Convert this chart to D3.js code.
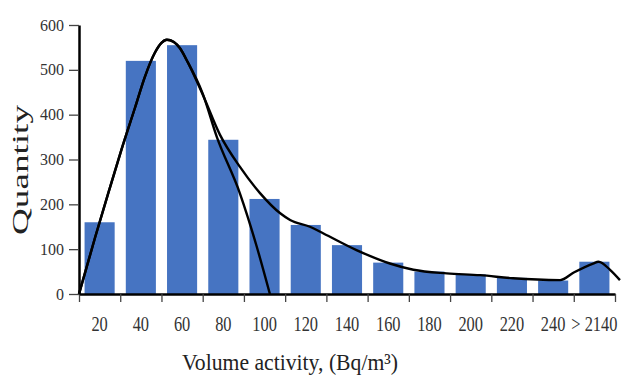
<!DOCTYPE html>
<html>
<head>
<meta charset="utf-8">
<script src="https://cdn.jsdelivr.net/npm/d3@7"></script>
<style>
  body { margin: 0; background: #fff; }
  text { font-family: "Liberation Serif", "Times New Roman", serif; }
</style>
</head>
<body>
<div id="chart"></div>
<script>
// bins on the x axis
var categories = ["20", "40", "60", "80", "100", "120", "140", "160", "180", "200", "220", "240", "> 2140"];
// number of measurements in each bin
var quantities = [160, 520, 555, 344, 212, 154, 109, 70, 50, 44, 36, 30, 72];
var yTicks = [0, 100, 200, 300, 400, 500, 600];

// fitted curves, x in bin units (0 = left edge of first bin)
var fitCurveX = [0, 0.39, 0.71, 1.03, 1.36, 1.6, 1.84, 2.0, 2.13, 2.3, 2.45, 2.61, 3.0, 3.34, 3.9, 4.31, 4.63];
var fitCurveY = [0, 126, 225, 322, 416, 485, 538, 560, 567, 562, 548, 522, 447, 351, 225, 106, 0];
var smoothX = [0, 0.39, 0.71, 1.03, 1.36, 1.6, 1.84, 2.0, 2.13, 2.3, 2.45, 2.61, 3.0, 3.42, 3.9, 4.39, 4.88, 5.12, 5.6, 5.93, 6.73, 7.54, 8.11, 8.92, 9.73, 10.53, 11.67, 12.0, 12.47, 12.6, 12.88, 13.12];
var smoothY = [0, 126, 225, 322, 416, 485, 538, 560, 567, 562, 548, 522, 445, 355, 284, 225, 180, 165, 150, 135, 98, 68, 54, 46, 42, 35, 31, 48, 68, 72, 54, 31];

// set the dimensions and margins of the graph
var margin = {top: 25, right: 7, bottom: 89, left: 79},
    width = 622 - margin.left - margin.right,
    height = 383 - margin.top - margin.bottom;

var svg = d3.select("#chart")
    .append("svg")
    .attr("width", width + margin.left + margin.right)
    .attr("height", height + margin.top + margin.bottom)
    .append("g")
    .attr("transform", "translate(" + margin.left + "," + margin.top + ")");

// X scales: band for bars, linear (bin units) for curves and tick marks
var x = d3.scaleBand()
    .range([0, width])
    .domain(categories)
    .paddingInner(0.27)
    .paddingOuter(0.135);

var xu = d3.scaleLinear()
    .domain([0, categories.length])
    .range([0, width]);

var y = d3.scaleLinear()
    .domain([0, 600])
    .range([height, 0]);

// bars
svg.selectAll("rect")
    .data(quantities)
    .enter()
    .append("rect")
    .attr("x", function(d, i) { return x(categories[i]); })
    .attr("y", function(d) { return y(d); })
    .attr("width", x.bandwidth())
    .attr("height", function(d) { return height - y(d); })
    .attr("fill", "#4674c2");

// curves
var line = d3.line()
    .x(function(d) { return xu(d[0]); })
    .y(function(d) { return y(d[1]); })
    .curve(d3.curveMonotoneX);

svg.append("path")
    .datum(d3.zip(fitCurveX, fitCurveY))
    .attr("d", line)
    .attr("fill", "none")
    .attr("stroke", "#000")
    .attr("stroke-width", 2.4);

svg.append("path")
    .datum(d3.zip(smoothX, smoothY))
    .attr("d", line)
    .attr("fill", "none")
    .attr("stroke", "#000")
    .attr("stroke-width", 2.4);

// X axis: tick marks on bin edges
var xTickAxis = svg.append("g")
    .attr("transform", "translate(0," + height + ")")
    .call(d3.axisBottom(xu).tickValues(d3.range(0, categories.length + 1)).tickFormat("").tickSize(8).tickSizeOuter(0));
xTickAxis.select(".domain").attr("stroke", "#000").attr("stroke-width", 2.5);
xTickAxis.selectAll(".tick line").attr("stroke", "#444").attr("stroke-width", 1.3);

// X axis labels centred in the bins
var xLabelAxis = svg.append("g")
    .attr("transform", "translate(0," + height + ")")
    .call(d3.axisBottom(x).tickSize(0).tickPadding(23));
xLabelAxis.select(".domain").remove();
xLabelAxis.selectAll("text")
    .attr("font-size", 20)
    .attr("fill", "#333")
    .attr("transform", "scale(0.82,1)");

// Y axis
var yAxis = svg.append("g")
    .call(d3.axisLeft(y).tickValues(yTicks).tickSize(10).tickPadding(5).tickSizeOuter(0));
yAxis.select(".domain").attr("stroke", "#000").attr("stroke-width", 2.5);
yAxis.selectAll(".tick line").attr("stroke", "#444").attr("stroke-width", 1.3);
yAxis.selectAll("text")
    .attr("font-size", 16)
    .attr("fill", "#333");

// axis titles
svg.append("text")
    .attr("transform", "rotate(-90)")
    .attr("x", -(170 - margin.top))
    .attr("y", 28 - margin.left)
    .attr("text-anchor", "middle")
    .attr("font-size", 24)
    .attr("fill", "#222")
    .attr("textLength", 130)
    .attr("lengthAdjust", "spacingAndGlyphs")
    .text("Quantity");

svg.append("text")
    .attr("x", 290 - margin.left)
    .attr("y", 370 - margin.top)
    .attr("text-anchor", "middle")
    .attr("font-size", 23)
    .attr("fill", "#222")
    .attr("textLength", 216)
    .attr("lengthAdjust", "spacingAndGlyphs")
    .text("Volume activity, (Bq/m³)");
</script>
</body>
</html>
